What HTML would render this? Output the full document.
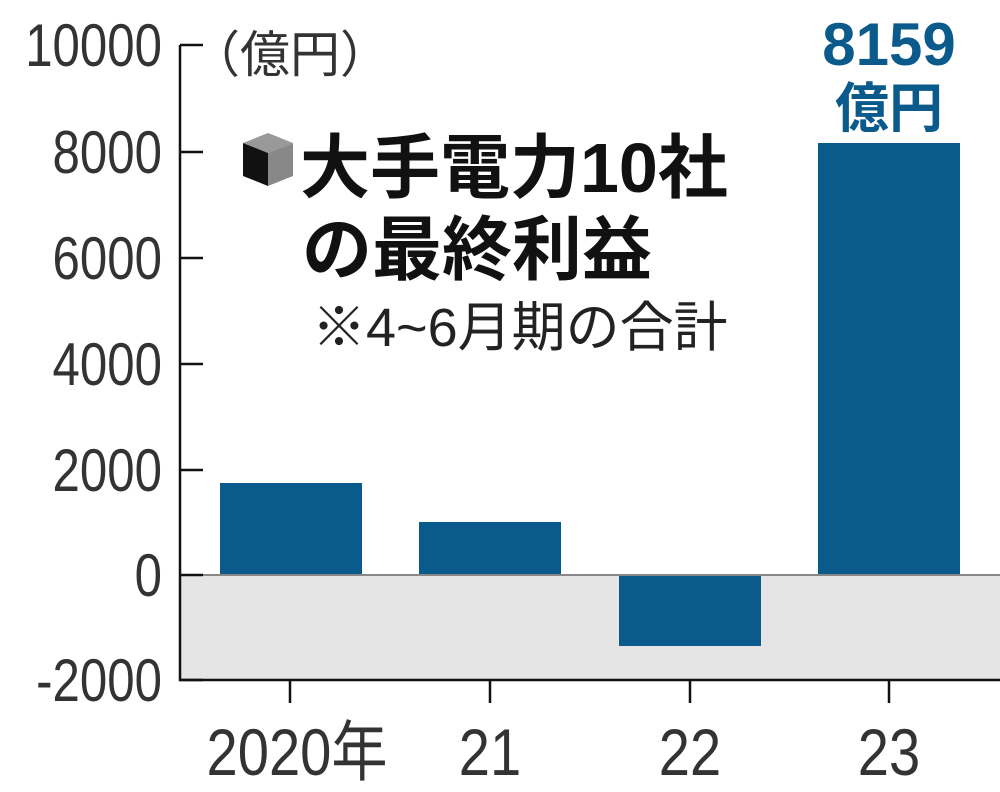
<!DOCTYPE html>
<html><head><meta charset="utf-8"><style>
body{margin:0;width:1000px;height:787px;background:#fff;overflow:hidden}
svg text{font-family:"Liberation Sans","Noto Sans CJK JP",sans-serif}
</style></head><body>
<svg width="1000" height="787" viewBox="0 0 1000 787">
<rect x="180" y="575" width="820" height="105" fill="#e5e5e5"/>
<g fill="#0b5a8c">
<rect x="220" y="483" width="142" height="92"/>
<rect x="419" y="522" width="142" height="53"/>
<rect x="619" y="575" width="142" height="71"/>
<rect x="818" y="143" width="142" height="432"/>
</g>
<line x1="180" y1="575" x2="1000" y2="575" stroke="#888" stroke-width="2"/>
<g stroke="#111" stroke-width="2.5" fill="none">
<path d="M180 45 V680 H1000"/>
<path d="M180 45H203M180 152H203M180 258H203M180 364H203M180 470H203M180 575H203M180 680H203"/>
<path d="M290 680V703M490 680V703M690 680V703M889 680V703"/>
</g>
<g font-size="60" fill="#333" text-anchor="end">
<text x="162" y="66" transform="scale(0.82 1)" transform-origin="162 0">10000</text>
<text x="162" y="173" transform="scale(0.82 1)" transform-origin="162 0">8000</text>
<text x="162" y="279" transform="scale(0.82 1)" transform-origin="162 0">6000</text>
<text x="162" y="385" transform="scale(0.82 1)" transform-origin="162 0">4000</text>
<text x="162" y="491" transform="scale(0.82 1)" transform-origin="162 0">2000</text>
<text x="162" y="596" transform="scale(0.82 1)" transform-origin="162 0">0</text>
<text x="162" y="701" transform="scale(0.82 1)" transform-origin="162 0">-2000</text>
</g>
<g font-size="66" fill="#333" text-anchor="middle">
<text x="297" y="775" transform="scale(0.85 1)" transform-origin="297 0">2020年</text>
<text x="490" y="775" transform="scale(0.85 1)" transform-origin="490 0">21</text>
<text x="690" y="775" transform="scale(0.85 1)" transform-origin="690 0">22</text>
<text x="889" y="775" transform="scale(0.85 1)" transform-origin="889 0">23</text>
</g>
<text x="190" y="72" font-size="50" fill="#333">（億円）</text>
<g font-weight="bold" fill="#0b5a8c" text-anchor="middle">
<text x="889" y="65" font-size="60">8159</text>
<text x="889" y="127" font-size="54">億円</text>
</g>
<g>
<polygon points="243,143 268,133 293,143 268,153" fill="#999"/>
<polygon points="243,143 268,153 268,186 243,176" fill="#111"/>
<polygon points="268,153 293,143 293,176 268,186" fill="#888"/>
</g>
<g font-weight="bold" fill="#111" font-size="70">
<text x="300" y="192">大手電力10社</text>
<text x="302" y="274">の最終利益</text>
</g>
<text x="312" y="346" font-size="54" fill="#222" font-family="Liberation Serif,'Noto Serif CJK SC',serif">※4~6月期の合計</text>
</svg>
</body></html>
